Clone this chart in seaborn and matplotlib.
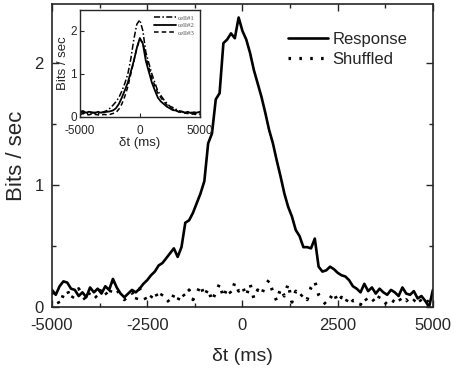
import numpy as np
import pandas as pd
import matplotlib
matplotlib.use("Agg")
import matplotlib.pyplot as plt
import seaborn as sns
from matplotlib.ticker import MultipleLocator

# ---- data ----
t_main = list(range(-5000, 5001, 100))
response = [0.14, 0.10, 0.17, 0.21, 0.20, 0.15, 0.14, 0.09, 0.12, 0.08,
            0.16, 0.12, 0.15, 0.11, 0.17, 0.14, 0.23, 0.16, 0.11, 0.08,
            0.11, 0.14, 0.12, 0.15, 0.19, 0.22, 0.26, 0.29, 0.34, 0.36,
            0.40, 0.44, 0.48, 0.41, 0.49, 0.69, 0.71, 0.77, 0.85, 0.93,
            1.03, 1.34, 1.42, 1.70, 1.75, 2.16, 2.19, 2.24, 2.20, 2.37,
            2.26, 2.19, 2.08, 1.94, 1.83, 1.72, 1.59, 1.45, 1.34, 1.20,
            1.07, 0.93, 0.82, 0.74, 0.63, 0.58, 0.49, 0.49, 0.48, 0.56,
            0.33, 0.29, 0.30, 0.33, 0.31, 0.28, 0.26, 0.25, 0.22, 0.17,
            0.15, 0.12, 0.19, 0.13, 0.16, 0.11, 0.15, 0.12, 0.10, 0.14,
            0.12, 0.09, 0.16, 0.11, 0.10, 0.13, 0.07, 0.09, 0.05, 0.00,
            0.14]
shuffled = [0.12, 0.08, 0.02, 0.10, 0.14, 0.06, 0.11, 0.15, 0.09, 0.05,
            0.13, 0.10, 0.07, 0.16, 0.12, 0.08, 0.21, 0.14, 0.10, 0.06,
            0.09, 0.12, 0.05, 0.15, 0.10, 0.04, 0.08, 0.13, 0.06, 0.11,
            0.07, 0.03, 0.10, 0.05, 0.12, 0.08, 0.14, 0.06, 0.11, 0.18,
            0.09, 0.15, 0.05, 0.12, 0.19, 0.08, 0.16, 0.11, 0.20, 0.13,
            0.17, 0.09, 0.19, 0.07, 0.14, 0.10, 0.18, 0.22, 0.12, 0.05,
            0.15, 0.09, 0.19, 0.04, 0.13, 0.08, 0.11, 0.06, 0.16, 0.21,
            0.10, 0.05, 0.02, 0.07, 0.12, 0.04, 0.08, 0.03, 0.09, 0.05,
            0.06, 0.02, 0.08, 0.04, 0.07, 0.03, 0.09, 0.05, 0.02, 0.06,
            0.04, 0.08, 0.03, 0.06, 0.02, 0.05, 0.09, 0.04, 0.07, 0.03,
            0.05]

t_inset = list(range(-5000, 5001, 250))
cell1 = [0.08, 0.12, 0.06, 0.10, 0.09, 0.11, 0.07, 0.10, 0.12, 0.15,
         0.20, 0.27, 0.35, 0.45, 0.60, 0.78, 1.00, 1.35, 1.80, 2.15,
         2.25, 2.00, 1.50, 1.25, 1.00, 0.80, 0.60, 0.50, 0.40, 0.32,
         0.25, 0.22, 0.18, 0.15, 0.12, 0.10, 0.09, 0.11, 0.08, 0.07,
         0.10]
cell2 = [0.12, 0.14, 0.10, 0.12, 0.11, 0.09, 0.12, 0.10, 0.11, 0.12,
         0.13, 0.15, 0.20, 0.30, 0.45, 0.62, 0.80, 1.05, 1.30, 1.60,
         1.83, 1.70, 1.30, 1.05, 0.80, 0.62, 0.45, 0.36, 0.30, 0.24,
         0.20, 0.16, 0.15, 0.12, 0.13, 0.10, 0.12, 0.09, 0.11, 0.10,
         0.12]
cell3 = [0.05, 0.08, 0.06, 0.05, 0.07, 0.06, 0.05, 0.04, 0.06, 0.05,
         0.06, 0.08, 0.10, 0.18, 0.30, 0.48, 0.70, 1.00, 1.30, 1.60,
         1.80, 1.72, 1.40, 1.15, 0.90, 0.72, 0.55, 0.45, 0.36, 0.28,
         0.22, 0.18, 0.15, 0.12, 0.10, 0.09, 0.08, 0.06, 0.07, 0.05,
         0.06]

# ---- style ----
sns.set_style("ticks")
plt.rcParams['font.family'] = ['Liberation Sans', 'DejaVu Sans']
plt.rcParams['xtick.direction'] = 'in'
plt.rcParams['ytick.direction'] = 'in'
plt.rcParams['axes.unicode_minus'] = False

fig = plt.figure(figsize=(4.54, 3.69), dpi=100)
ax = fig.add_axes([0.1145, 0.168, 0.839, 0.821])

df = pd.DataFrame({"t": t_main, "Response": response, "Shuffled": shuffled})
sns.lineplot(data=df, x="t", y="Response", ax=ax, color="black", lw=1.9,
             label="Response")
sns.lineplot(data=df, x="t", y="Shuffled", ax=ax, color="black", lw=2.3,
             linestyle=(0, (0.8, 2.6)), label="Shuffled")

ax.set_xlim(-5000, 5000)
ax.set_ylim(0, 2.48)
ax.set_xticks([-5000, -2500, 0, 2500, 5000])
ax.set_yticks([0, 1, 2])
ax.xaxis.set_minor_locator(MultipleLocator(1250))
ax.yaxis.set_minor_locator(MultipleLocator(0.5))
ax.tick_params(which='both', top=True, right=True, direction='in',
               labelsize=12, width=1)
ax.tick_params(which='major', length=5)
ax.tick_params(which='minor', length=3)
ax.tick_params(axis='x', which='major', pad=8)
ax.tick_params(axis='y', which='major', pad=6)
ax.set_xlabel("δt (ms)", fontsize=14, labelpad=11)
ax.set_ylabel("Bits / sec", fontsize=16, labelpad=5)
for s in ax.spines.values():
    s.set_linewidth(1.2)
leg = ax.legend(loc="upper right", bbox_to_anchor=(0.96, 0.94), frameon=False,
                fontsize=12, handlelength=2.4, handletextpad=0.3,
                labelspacing=0.3, borderaxespad=0.2)

# ---- inset ----
ins = fig.add_axes([0.176, 0.683, 0.264, 0.29])
dfi = pd.DataFrame({"t": t_inset, "c1": cell1, "c2": cell2, "c3": cell3})
sns.lineplot(data=dfi, x="t", y="c1", ax=ins, color="black", lw=1.1,
             linestyle=(0, (4, 1.5, 1, 1.5)), label="cell#1")
sns.lineplot(data=dfi, x="t", y="c2", ax=ins, color="black", lw=1.3,
             linestyle="-", label="cell#2")
sns.lineplot(data=dfi, x="t", y="c3", ax=ins, color="black", lw=1.1,
             linestyle=(0, (3, 2)), label="cell#3")
ins.set_xlim(-5000, 5000)
ins.set_ylim(0, 2.48)
ins.set_xticks([-5000, 0, 5000])
ins.set_yticks([0, 1, 2])
ins.tick_params(direction='in', labelsize=8.5, length=3)
ins.tick_params(axis='x', pad=5.5)
ins.tick_params(axis='y', pad=2)
ins.set_xlabel("δt (ms)", fontsize=9.5, labelpad=0)
ins.set_ylabel("Bits / sec", fontsize=9.5, labelpad=1)
for s in ins.spines.values():
    s.set_linewidth(1.0)
ins.legend(loc="upper right", frameon=False, prop={'family': 'Liberation Serif', 'size': 5},
           handlelength=3.2, handletextpad=0.3, labelspacing=0.25, borderaxespad=0.3,
           labelcolor='#555555')

fig.savefig("out.png", dpi=100)
